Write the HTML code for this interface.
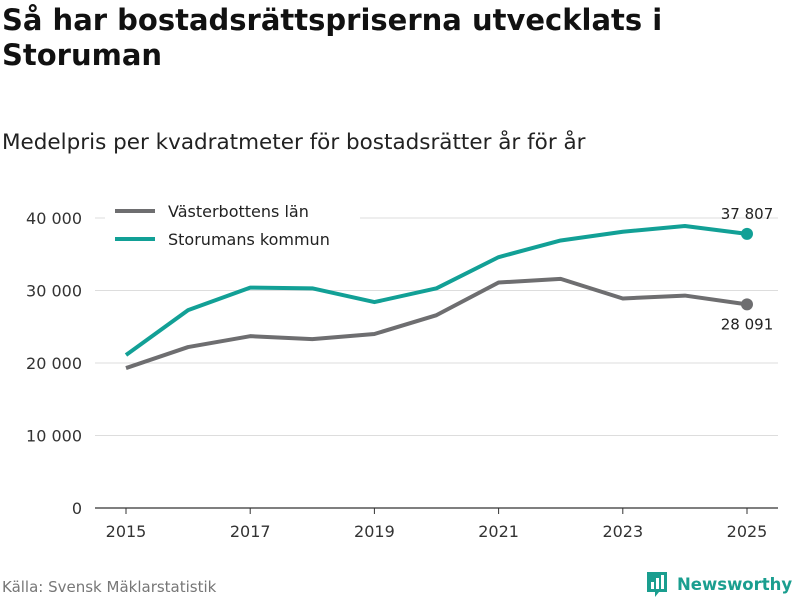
<!DOCTYPE html>
<html><head><meta charset="utf-8"><style>
body{margin:0;width:800px;height:600px;background:#fff;font-family:"DejaVu Sans","Liberation Sans",sans-serif;overflow:hidden}
h1{position:absolute;left:2px;top:3px;margin:0;font-size:29px;line-height:35px;font-weight:bold;color:#111}
.sub{position:absolute;left:2px;top:130px;font-size:21.5px;color:#222}
.src{position:absolute;left:2px;top:578px;font-size:15px;color:#777}
</style></head><body>
<h1>Så har bostadsrättspriserna utvecklats i<br>Storuman</h1>
<div class="sub">Medelpris per kvadratmeter för bostadsrätter år för år</div>
<svg id="c" width="800" height="600" style="position:absolute;left:0;top:0"></svg>
<div class="src">Källa: Svensk Mäklarstatistik</div>
<div style="position:absolute;left:645px;top:570px;display:flex;align-items:center;gap:8px">
<svg width="24" height="28"><path d="M2 2h20v20h-8l-4 5v-5H2z" fill="#1a9e8f"/><rect x="6" y="12" width="3" height="7" fill="#fff"/><rect x="11" y="8" width="3" height="11" fill="#fff"/><rect x="16" y="5" width="3" height="14" fill="#fff"/></svg>
<span style="font-size:16.5px;font-weight:bold;color:#1a9e8f">Newsworthy</span></div>
<script>
const years=[2015,2016,2017,2018,2019,2020,2021,2022,2023,2024,2025];
const vasterbotten=[19300,22200,23700,23300,24000,26600,31100,31600,28900,29300,28091];
const storuman=[21100,27300,30400,30300,28400,30300,34600,36900,38100,38900,37807];
const yTicks=[0,10000,20000,30000,40000];
const xTicks=[2015,2017,2019,2021,2023,2025];
const NS="http://www.w3.org/2000/svg",svg=document.getElementById('c');
const x=v=>126+(v-2015)*62.1, y=v=>508-v/10000*72.5;
const fmt=v=>v===0?"0":String(v).replace(/\B(?=(\d{3})+(?!\d))/g," ");
function mk(t,a,txt){const e=document.createElementNS(NS,t);for(const k in a)e.setAttribute(k,a[k]);if(txt!=null)e.textContent=txt;svg.appendChild(e);return e;}
yTicks.forEach(v=>{
 const g=mk('line',{x1:95,x2:778,y1:y(v),y2:y(v),stroke:v?'#ddd':'#333','stroke-width':v?1:1.2});
 
 
 const t=mk('text',{x:82,y:y(v)+6,'text-anchor':'end','font-size':16,fill:'#333','font-family':'DejaVu Sans, sans-serif'},fmt(v));
 
 
});
xTicks.forEach(v=>{
 const l=mk('line',{x1:x(v),x2:x(v),y1:508,y2:514,stroke:'#333'});
 
 
 const t=mk('text',{x:x(v),y:537,'text-anchor':'middle','font-size':16,fill:'#333','font-family':'DejaVu Sans, sans-serif'},v);
 
 
});
function series(vals,col,name){
 const p=mk('polyline',{points:vals.map((v,i)=>x(years[i])+','+y(v)).join(' '),fill:'none',stroke:col,'stroke-width':4,'stroke-linejoin':'round'});
 
 
 const n=vals.length-1;
 const c=mk('circle',{cx:x(years[n]),cy:y(vals[n]),r:6,fill:col});
 
 
}
series(vasterbotten,'#6e6e70','vasterbotten');
series(storuman,'#12a096','storuman');
let n=years.length-1;
let t1=mk('text',{x:x(years[n]),y:y(storuman[n])-15,'text-anchor':'middle','font-size':15,fill:'#222','font-family':'DejaVu Sans, sans-serif'},fmt(storuman[n]));


let t2=mk('text',{x:x(years[n]),y:y(vasterbotten[n])+25,'text-anchor':'middle','font-size':15,fill:'#222','font-family':'DejaVu Sans, sans-serif'},fmt(vasterbotten[n]));


const bg=mk('rect',{x:105,y:198,width:255,height:56,fill:'#fff'});


[['Västerbottens län','#6e6e70',211],['Storumans kommun','#12a096',239]].forEach(([lab,col,yy])=>{
 const l=mk('line',{x1:115,x2:155,y1:yy,y2:yy,stroke:col,'stroke-width':4});
 
 
 const t=mk('text',{x:168,y:yy+6,'font-size':16,fill:'#222','font-family':'DejaVu Sans, sans-serif'},lab);
 
 
});
</script>
</body></html>
